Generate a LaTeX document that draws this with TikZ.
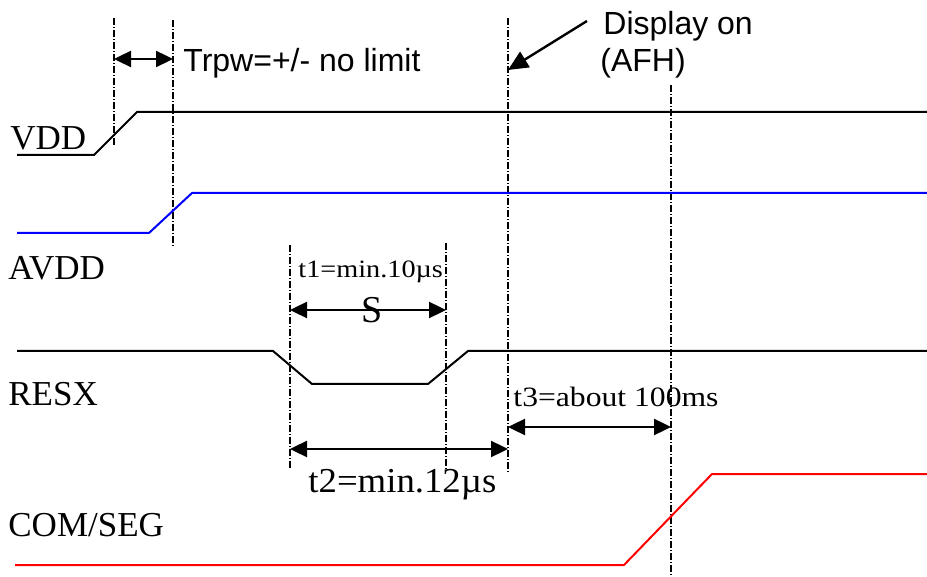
\documentclass[tikz,border=0pt]{standalone}
\usepackage{fontspec}
\setmainfont{Liberation Serif}
\newfontfamily\arialfont{Liberation Sans}
\usetikzlibrary{arrows.meta}

\tikzset{
  sig/.style={line width=1pt},
  guide/.style={line width=0.6pt, dash pattern=on 3.5pt off 1pt on 0.5pt off 1pt},
  dim/.style={line width=1.2pt, {Triangle[length=8.5pt,width=8pt]}-{Triangle[length=8.5pt,width=8pt]}},
  lbl/.style={anchor=base west, inner sep=0pt, font=\fontsize{17.5}{20}\selectfont},
  note/.style={anchor=base west, inner sep=0pt, font=\arialfont\fontsize{16}{18}\selectfont},
}

\begin{document}
\begin{tikzpicture}[x=0.5pt, y=-0.5pt]
\useasboundingbox (0,0) rectangle (927,577);

%guide lines
\draw[guide] (114,18) -- (114,145);
\draw[guide] (173,20) -- (173,247);
\draw[guide] (290,245) -- (290,470);
\draw[guide] (446,243) -- (446,470);
\draw[guide] (508,18) -- (508,472);
\draw[guide] (671,85) -- (671,577);

%signals
\draw[sig] (17,155) -- (94,155) -- (137,112) -- (927,112);
\draw[sig, blue] (17,233) -- (149,233) -- (192,193) -- (927,193);
\draw[sig] (17,351) -- (273,351) -- (312,384) -- (428,384) -- (468,351) -- (927,351);
\draw[sig, red] (15,565) -- (624,565) -- (712,474) -- (927,474);

\node[lbl] (vdd) at (10,150) {VDD};
\node[lbl] (avdd) at (8,280) {AVDD};
\node[lbl] (resx) at (8,406) {RESX};
\node[lbl] (comseg) at (8,536) {COM/SEG};

\coordinate (trpwa) at (114,59);
\coordinate (trpwb) at (173,59);
\draw[dim] (trpwa) -- (trpwb);
\node[note] (trpw) at (183,72) {Trpw=+/- no limit};

\node[note] (dispon) at (603,35) {Display on};
\node[note] (afh) at (600,72) {(AFH)};
\coordinate (dispa) at (587,21);
\coordinate (dispb) at (508,70);
\draw[line width=1.2pt, -{Triangle[length=10pt,width=9pt]}] (dispa) -- (dispb);

\coordinate (sa) at (290,310);
\coordinate (sb) at (446,310);
\draw[dim] (sa) -- (sb);
\node[inner sep=0pt, font=\fontsize{19}{22}\selectfont] (s) at (372,310) {S};
\node[anchor=base west, inner sep=0pt, font=\fontsize{12.5}{14}\selectfont, xscale=1.13] (tone) at (298,278) {t1=min.10µs};

\coordinate (ta) at (290,449);
\coordinate (tb) at (508,449);
\draw[dim] (ta) -- (tb);
\node[anchor=base west, inner sep=0pt, font=\fontsize{17.5}{20}\selectfont, xscale=1.05] (ttwo) at (308,492) {t2=min.12µs};

\coordinate (tc) at (508,427);
\coordinate (td) at (671,427);
\draw[dim] (tc) -- (td);
\node[anchor=base west, inner sep=0pt, font=\fontsize{14}{16}\selectfont, xscale=1.13] (tthree) at (513,407) {t3=about 100ms};

\end{tikzpicture}
\end{document}
